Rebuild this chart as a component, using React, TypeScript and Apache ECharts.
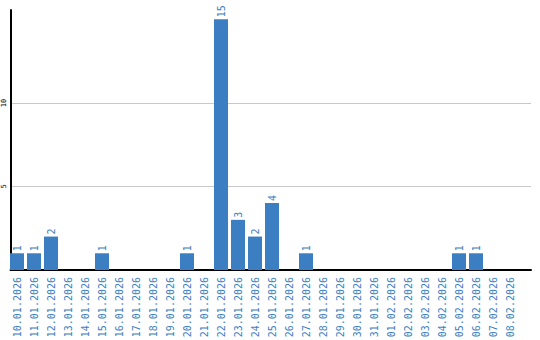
import React, { useEffect, useRef } from "react";
import * as echarts from "echarts";

const categories = [
  "10.01.2026", "11.01.2026", "12.01.2026", "13.01.2026", "14.01.2026",
  "15.01.2026", "16.01.2026", "17.01.2026", "18.01.2026", "19.01.2026",
  "20.01.2026", "21.01.2026", "22.01.2026", "23.01.2026", "24.01.2026",
  "25.01.2026", "26.01.2026", "27.01.2026", "28.01.2026", "29.01.2026",
  "30.01.2026", "31.01.2026", "01.02.2026", "02.02.2026", "03.02.2026",
  "04.02.2026", "05.02.2026", "06.02.2026", "07.02.2026", "08.02.2026",
];
const counts = [
  1, 1, 2, 0, 0, 1, 0, 0, 0, 0,
  1, 0, 15, 3, 2, 4, 0, 1, 0, 0,
  0, 0, 0, 0, 0, 0, 1, 1, 0, 0,
];
const yTickLabels = ["5", "10"];

const BLUE = "#3b7ec2";
const MONO = "'DejaVu Sans Mono', monospace";

export default function App() {
  const ref = useRef<HTMLDivElement>(null);
  useEffect(() => {
    if (!ref.current) return;
    const chart = echarts.init(ref.current, undefined, { renderer: "svg" });
    const gridBase = { outerBoundsMode: "none", containLabel: false };
    chart.setOption({
      animation: false,
      grid: [
        { ...gridBase, left: 8.5, top: 10, width: 510, height: 260 },
        { ...gridBase, left: 10.5, top: 10, width: 520.5, height: 260 },
        { ...gridBase, left: 10.5, top: 103, width: 520.5, height: 167 },
      ],
      xAxis: [
        {
          type: "category",
          gridIndex: 0,
          data: categories,
          axisLine: { show: false },
          axisTick: { show: false },
          axisLabel: {
            rotate: 90,
            interval: 0,
            margin: 7,
            color: BLUE,
            fontFamily: MONO,
            fontSize: 10,
          },
        },
        {
          type: "value",
          gridIndex: 1,
          min: 0,
          max: 1,
          axisLine: { show: true, lineStyle: { color: "#000", width: 2 } },
          axisTick: { show: false },
          axisLabel: { show: false },
          splitLine: { show: false },
        },
        {
          type: "value",
          gridIndex: 2,
          min: 0,
          max: 1,
          show: false,
        },
      ],
      yAxis: [
        {
          type: "value",
          gridIndex: 0,
          min: 0,
          max: 15.55,
          show: false,
        },
        {
          type: "value",
          gridIndex: 1,
          min: 0,
          max: 15.55,
          axisLine: { show: true, lineStyle: { color: "#000", width: 2 } },
          axisTick: { show: false },
          axisLabel: { show: false },
          splitLine: { show: false },
        },
        {
          type: "value",
          gridIndex: 2,
          min: 0,
          max: 10,
          interval: 5,
          axisLine: { show: false },
          axisTick: { show: false },
          splitLine: { show: true, lineStyle: { color: "#c8c8c8", width: 1 } },
          axisLabel: {
            show: true,
            rotate: 90,
            margin: 3,
            fontSize: 7,
            fontFamily: MONO,
            color: "#000",
            align: "center",
            verticalAlign: "bottom",
            formatter: (v: number) => (yTickLabels.includes(String(v)) ? String(v) : ""),
          },
        },
      ],
      series: [
        {
          type: "bar",
          xAxisIndex: 0,
          yAxisIndex: 0,
          data: counts.map((v) => (v === 0 ? null : v)),
          barWidth: 14,
          itemStyle: { color: BLUE },
          label: {
            show: true,
            position: "top",
            rotate: 90,
            align: "left",
            verticalAlign: "middle",
            distance: 2,
            color: BLUE,
            fontFamily: MONO,
            fontSize: 10,
          },
        },
      ],
    });
    return () => chart.dispose();
  }, []);
  return (
    <div
      ref={ref}
      style={{ position: "absolute", left: 0, top: 0, width: 540, height: 340 }}
    />
  );
}
